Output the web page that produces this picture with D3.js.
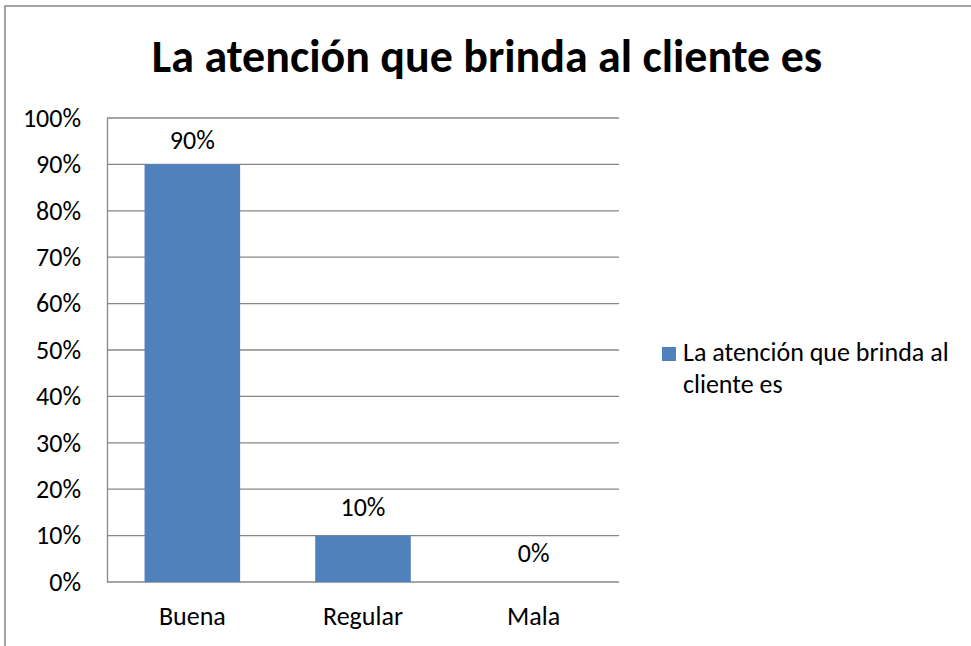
<!DOCTYPE html>
<html>
<head>
<meta charset="utf-8">
<script src="https://cdn.jsdelivr.net/npm/d3@7"></script>
<style>
  body { margin: 0; background: #fff; }
  text { font-family: Carlito, Lato, "Open Sans", sans-serif; fill: #000; }
</style>
</head>
<body>
<div class="chart"></div>
<script>
var categories = ["Buena", "Regular", "Mala"];
var values = [0.90, 0.10, 0.00];
var yTicks = [0, 0.1, 0.2, 0.3, 0.4, 0.5, 0.6, 0.7, 0.8, 0.9, 1.0];
var title = "La atención que brinda al cliente es";
var seriesName = ["La atención que brinda al", "cliente es"];

const W = 971, H = 646;
const margin = {top: 118, left: 107, right: 352, bottom: 64};
const width = W - margin.left - margin.right,
    height = H - margin.top - margin.bottom;

var svg = d3.select(".chart")
    .append("svg")
    .attr("width", W)
    .attr("height", H);

// chart border
svg.append("rect")
    .attr("x", 5).attr("y", 6)
    .attr("width", W + 10).attr("height", H + 10)
    .attr("fill", "none")
    .attr("stroke", "#878787")
    .attr("stroke-width", 1.5);

svg.append("text")
    .text(title)
    .attr("x", 487)
    .attr("y", 72)
    .attr("text-anchor", "middle")
    .attr("font-weight", "bold")
    .attr("font-size", 46);

const xScale = d3.scaleBand()
    .domain(categories)
    .range([0, width])
    .paddingInner(0.44)
    .paddingOuter(0.22);

const yScale = d3.scaleLinear()
    .domain([0, 1])
    .range([height, 0]);

var g = svg.append("g")
    .attr("transform", "translate(" + margin.left + "," + margin.top + ")");

// gridlines
g.selectAll("line.grid")
    .data(yTicks)
    .enter()
    .append("line")
    .attr("class", "grid")
    .attr("x1", 0)
    .attr("x2", width)
    .attr("y1", d => yScale(d))
    .attr("y2", d => yScale(d))
    .attr("stroke", "#878787")
    .attr("stroke-width", 1.3);

g.selectAll("rect.bar")
    .data(values)
    .enter()
    .append("rect")
    .attr("class", "bar")
    .attr("x", (d, i) => xScale(categories[i]))
    .attr("y", d => yScale(d))
    .attr("width", xScale.bandwidth())
    .attr("height", d => height - yScale(d))
    .attr("fill", "#4f81bd");

// data labels, kept inside the plot area like Excel does
g.selectAll("text.val")
    .data(values)
    .enter()
    .append("text")
    .attr("class", "val")
    .text(d => Math.round(d * 100) + "%")
    .attr("x", (d, i) => xScale(categories[i]) + xScale.bandwidth() / 2)
    .attr("y", d => Math.max(yScale(d) - 20, 31))
    .attr("text-anchor", "middle")
    .attr("font-size", 26);

const yAxis = d3.axisLeft(yScale)
    .tickValues(yTicks)
    .tickFormat(d3.format(".0%"))
    .tickSize(0)
    .tickPadding(26);

var yAxisDisplay = g.append("g")
    .attr("class", "axis y-axis")
    .call(yAxis);
yAxisDisplay.select(".domain").attr("stroke", "#878787").attr("stroke-width", 1.3);
yAxisDisplay.selectAll("text").attr("font-size", 26).attr("font-family", null);

const xAxis = d3.axisBottom(xScale).tickSize(0).tickPadding(25);
var xAxisDisplay = g.append("g")
    .attr("class", "axis x-axis")
    .attr("transform", `translate(0, ${height})`)
    .call(xAxis);
xAxisDisplay.select(".domain").remove();
xAxisDisplay.selectAll("text").attr("font-size", 26).attr("font-family", null);

// legend
var legend = svg.append("g").attr("transform", "translate(662,347)");
legend.append("rect")
    .attr("width", 14).attr("height", 14)
    .attr("fill", "#4f81bd");
legend.selectAll("text")
    .data(seriesName)
    .enter()
    .append("text")
    .text(d => d)
    .attr("x", 21)
    .attr("y", (d, i) => 14 + i * 32)
    .attr("font-size", 26);
</script>
</body>
</html>
